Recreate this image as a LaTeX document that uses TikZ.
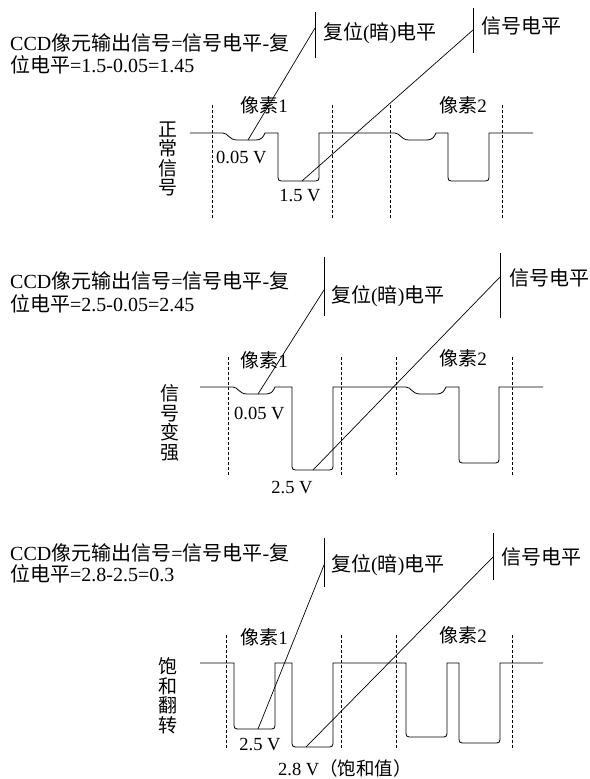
\documentclass[tikz,border=0pt]{standalone}
\usepackage{fontspec}
\setmainfont{Liberation Serif}
\newfontfamily\cjk{Noto Sans CJK SC}
\newcommand{\zh}[1]{{\cjk #1}}
\usetikzlibrary{positioning,calc}

% pieces of the output waveform: x-left, x-right, base level, bottom level
\newcommand{\pixwell}[4]{-- (#1,#3) -- (#1,#4-7) .. controls (#1,#4) .. (#1+7,#4) -- (#2-7,#4) .. controls (#2,#4) .. (#2,#4-7) -- (#2,#3)}
\newcommand{\resetdip}[4]{-- (#1,#3) .. controls (#1+5,#3) and (#1+6,#4) .. (#1+14,#4) -- (#2-10,#4) .. controls (#2-3,#4) and (#2-2,#4-3) .. (#2,#3)}

\begin{document}
\begin{tikzpicture}[x=1pt, y=-1pt,
    wave/.style={line width=0.8pt},
    guide/.style={line width=0.5pt, dash pattern=on 3pt off 2pt},
    levelbar/.style={line width=0.7pt},
    pointer/.style={line width=0.7pt},
    note/.style={anchor=west, inner sep=0pt, font=\fontsize{20}{22}\selectfont},
    pixname/.style={inner sep=0pt, font=\fontsize{19}{21}\selectfont},
    volt/.style={inner sep=0pt, font=\fontsize{18.5}{20}\selectfont},
    sidetext/.style={inner sep=0pt, align=center, font=\cjk\fontsize{19}{19.5}\selectfont}]

    \useasboundingbox (0,0) rectangle (589,779);

    % normal signal
    \node[note] (eqa1) at (10,43) {CCD\zh{像元输出信号}=\zh{信号电平}-\zh{复}};
    \node[note] (eqb1) at (10,65) {\zh{位电平}=1.5-0.05=1.45};
    \coordinate (rtop1) at (315,12);
    \coordinate (rbot1) at (315,58);
    \coordinate (stop1) at (473,8);
    \coordinate (sbot1) at (473,53);
    \draw[levelbar] (rtop1) -- (rbot1);
    \draw[levelbar] (stop1) -- (sbot1);
    \node[note] (rlab1) at (323,33) {\zh{复位}(\zh{暗})\zh{电平}};
    \node[note] (slab1) at (481,26) {\zh{信号电平}};
    \node[sidetext] (mode1) at (168,159) {正\\常\\信\\号};
    \node[pixname] (pixa1) at (264,105) {\zh{像素}1};
    \node[pixname] (pixb1) at (463,105) {\zh{像素}2};
    \foreach \x in {212,332,390,502} \draw[guide] (\x,105) -- (\x,218);
    \draw[wave] (190,133) \resetdip{223}{265}{133}{140} \pixwell{278}{319}{133}{181}
        \resetdip{395}{436}{133}{140} \pixwell{448}{489}{133}{181} -- (533,133);
    \node[volt, anchor=west] (va1) at (216,157) {0.05 V};
    \node[volt] (vb1) at (300,196) {1.5 V};
    \coordinate (rpt1) at (248,140);
    \coordinate (rhit1) at (315,28);
    \coordinate (spt1) at (302,181);
    \coordinate (shit1) at (473,30);
    \draw[pointer] (rpt1) -- (rhit1);
    \draw[pointer] (spt1) -- (shit1);

    % stronger signal
    \node[note] (eqa2) at (10,281) {CCD\zh{像元输出信号}=\zh{信号电平}-\zh{复}};
    \node[note] (eqb2) at (10,304) {\zh{位电平}=2.5-0.05=2.45};
    \coordinate (rtop2) at (324,257);
    \coordinate (rbot2) at (324,316);
    \coordinate (stop2) at (500,253);
    \coordinate (sbot2) at (500,318);
    \draw[levelbar] (rtop2) -- (rbot2);
    \draw[levelbar] (stop2) -- (sbot2);
    \node[note] (rlab2) at (331,296) {\zh{复位}(\zh{暗})\zh{电平}};
    \node[note] (slab2) at (509,278) {\zh{信号电平}};
    \node[sidetext] (mode2) at (170,423) {信\\号\\变\\强};
    \node[pixname] (pixa2) at (264,360) {\zh{像素}1};
    \node[pixname] (pixb2) at (463,358) {\zh{像素}2};
    \foreach \x in {228,341,396,512} \draw[guide] (\x,357) -- (\x,475);
    \draw[wave] (200,387) \resetdip{233}{275}{387}{394} \pixwell{292}{333}{387}{470}
        \resetdip{406}{446}{387}{394} \pixwell{459}{499}{387}{463} -- (543,387);
    \node[volt, anchor=west] (va2) at (234,413) {0.05 V};
    \node[volt] (vb2) at (292,488) {2.5 V};
    \coordinate (rpt2) at (258,394);
    \coordinate (rhit2) at (324,290);
    \coordinate (spt2) at (313,470);
    \coordinate (shit2) at (500,277);
    \draw[pointer] (rpt2) -- (rhit2);
    \draw[pointer] (spt2) -- (shit2);

    % saturation
    \node[note] (eqa3) at (10,553) {CCD\zh{像元输出信号}=\zh{信号电平}-\zh{复}};
    \node[note] (eqb3) at (10,574) {\zh{位电平}=2.8-2.5=0.3};
    \coordinate (rtop3) at (324,538);
    \coordinate (rbot3) at (324,587);
    \coordinate (stop3) at (493,533);
    \coordinate (sbot3) at (493,580);
    \draw[levelbar] (rtop3) -- (rbot3);
    \draw[levelbar] (stop3) -- (sbot3);
    \node[note] (rlab3) at (331,565) {\zh{复位}(\zh{暗})\zh{电平}};
    \node[note] (slab3) at (501,557) {\zh{信号电平}};
    \node[sidetext] (mode3) at (168,696) {饱\\和\\翻\\转};
    \node[pixname] (pixa3) at (264,637) {\zh{像素}1};
    \node[pixname] (pixb3) at (463,635) {\zh{像素}2};
    \foreach \x in {226,341,396,512} \draw[guide] (\x,635) -- (\x,750);
    \draw[wave] (200,663) \pixwell{234}{275}{663}{729} \pixwell{292}{333}{663}{747}
        \pixwell{406}{447}{663}{737} \pixwell{459}{500}{663}{743} -- (543,663);
    \node[volt] (vc3) at (260,745) {2.5 V};
    \node[volt, anchor=west] (vd3) at (278,768) {2.8 V\zh{（饱和值）}};
    \coordinate (rpt3) at (258,729);
    \coordinate (rhit3) at (324,565);
    \coordinate (spt3) at (306,747);
    \coordinate (shit3) at (493,557);
    \draw[pointer] (rpt3) -- (rhit3);
    \draw[pointer] (spt3) -- (shit3);
\end{tikzpicture}
\end{document}
